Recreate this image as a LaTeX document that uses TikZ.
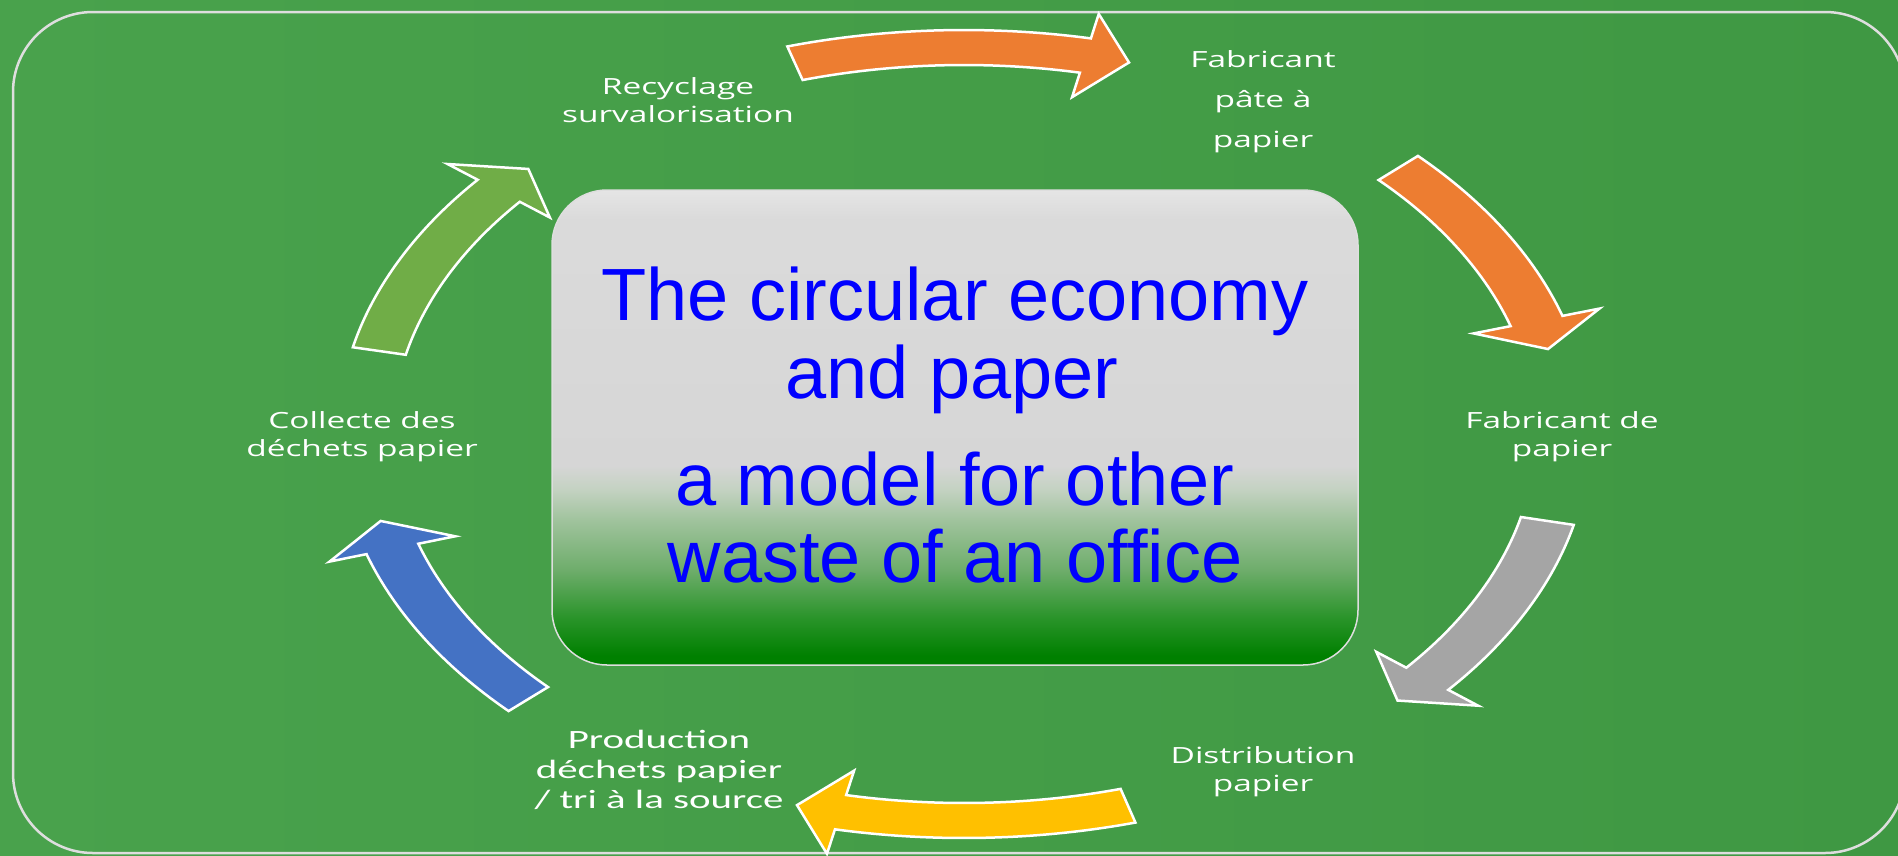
\documentclass[tikz,border=0pt]{standalone}
\usepackage{fontspec}
\setmainfont{Liberation Sans}
\newfontfamily\lblfont{Open Sans}
\newfontfamily\calfont{Carlito}
\definecolor{bgL}{HTML}{49A24C}
\definecolor{bgR}{HTML}{3F9843}
\definecolor{orng}{HTML}{ED7D31}
\definecolor{gry}{HTML}{A5A5A5}
\definecolor{yel}{HTML}{FFC000}
\definecolor{blu}{HTML}{4472C4}
\definecolor{grn}{HTML}{70AD47}
\definecolor{framec}{HTML}{DEDEDE}
\definecolor{bx0}{HTML}{008000}
\definecolor{bx1}{HTML}{2A942A}
\definecolor{bx2}{HTML}{6EAD6B}
\definecolor{bx3}{HTML}{9DC29A}
\definecolor{bx4}{HTML}{C4D2C2}
\definecolor{bx5}{HTML}{D6D6D6}
\definecolor{bx6}{HTML}{E5E5E5}
\definecolor{txtblue}{HTML}{0000FF}
\pgfdeclareverticalshading{boxshade}{100bp}{color(0bp)=(bx0); color(25bp)=(bx0); color(26bp)=(bx0); color(30bp)=(bx1); color(35bp)=(bx2); color(40bp)=(bx3); color(43.5bp)=(bx4); color(46bp)=(bx5); color(72bp)=(bx5!70!bx6); color(75bp)=(bx6); color(100bp)=(bx6)}
\tikzset{
  arr/.style={draw=white, line width=2.5pt, line join=miter},
  lbl/.style={text=white, align=center, inner sep=0pt, xscale=1.5,
    font=\lblfont\fontsize{22.3}{28}\selectfont},
  title/.style={text=txtblue, inner sep=0pt, anchor=base,
    font=\fontsize{74}{78}\selectfont},
}
\newcommand\cyclearrow[3]{%
  \pgfmathsetmacro\hb{#2+4.3}%
  \filldraw[arr, fill=#3] (#1:404) arc[start angle=#1, end angle=\hb, radius=404]
    -- (\hb:429) -- (#2:386.5) -- (\hb:344) -- (\hb:369)
    arc[start angle=\hb, end angle=#1, radius=369] -- cycle;}
\begin{document}
\begin{tikzpicture}[x=1pt, y=-1pt]
\useasboundingbox (0,0) rectangle (1898,855);
\fill[left color=bgL, right color=bgR] (0,0) rectangle (1898,855);
\draw[framec, line width=2.5pt, rounded corners=80pt] (13,12) rectangle (1905,853);

% central box
\node[draw=framec, line width=1.5pt, rounded corners=55pt, shading=boxshade,
      minimum width=806pt, minimum height=475pt, inner sep=0pt] (box) at (955,427.5) {};
\node[title] (t1) at (955,320) {The circular economy};
\node[title] (t2) at (952,398) {and paper};
\node[title] (t3) at (955,505) {a model for other};
\node[title] (t4) at (955,582) {waste of an office};

% cycle arrows
\begin{scope}[shift={(964,434)}, xscale=1.549, yscale=-1]
  \cyclearrow{106.4}{74}{orng}
  \cyclearrow{43.5}{12.7}{orng}
  \cyclearrow{-13}{-43.6}{gry}
  \cyclearrow{-74.1}{-106.2}{yel}
  \cyclearrow{-136.7}{-167}{blu}
  \cyclearrow{167.6}{136.7}{grn}
\end{scope}

% labels
\node[lbl] (recy) at (678,100) {Recyclage\\survalorisation};
\node[lbl, font=\lblfont\fontsize{22.3}{40}\selectfont] (pate) at (1263,102) {Fabricant\\pâte à\\papier};
\node[lbl] (fpap) at (1562,437) {Fabricant de\\papier};
\node[lbl] (dist) at (1263,772) {Distribution\\papier};
\node[lbl, xscale=1.549/1.5, font=\calfont\fontsize{26.4}{30}\selectfont] (prod) at (659,770) {Production\\déchets papier\\/ tri à la source};
\node[lbl] (coll) at (362,437) {Collecte des\\déchets papier};
\end{tikzpicture}
\end{document}
